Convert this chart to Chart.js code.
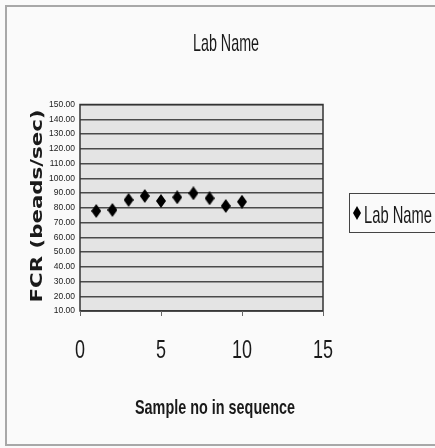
<!DOCTYPE html>
<html>
<head>
<meta charset="utf-8">
<script src="https://cdn.jsdelivr.net/npm/chart.js@4.4.0/dist/chart.umd.min.js"></script>
<style>
  body { margin: 0; background: #fafafa; }
  canvas { display: block; }
</style>
</head>
<body>
<canvas id="chart" width="435" height="448"></canvas>
<script>
const seriesName = "Lab Name";
const sampleNo = [1, 2, 3, 4, 5, 6, 7, 8, 9, 10];
const fcr = [77.8, 78.5, 85.3, 88, 84.6, 87.1, 89.8, 86.4, 81.2, 84.1];
const xTicks = [0, 5, 10, 15];
const yTicks = [10, 20, 30, 40, 50, 60, 70, 80, 90, 100, 110, 120, 130, 140, 150];

const narrow = "'Liberation Sans Narrow', 'Liberation Sans', Arial, sans-serif";

// tall diamond used as the marker
function makeDiamond(w, h) {
  const c = document.createElement("canvas");
  c.width = w; c.height = h;
  const g = c.getContext("2d");
  g.fillStyle = "#000";
  g.beginPath();
  g.moveTo(w / 2, 0);
  g.lineTo(w, h / 2);
  g.lineTo(w / 2, h);
  g.lineTo(0, h / 2);
  g.closePath();
  g.fill();
  return c;
}

// text squeezed / stretched like the scanned original
function stretchText(ctx, txt, x, y, font, w, sy, align, rot) {
  ctx.save();
  ctx.font = font;
  const m = ctx.measureText(txt).width;
  ctx.translate(x, y);
  if (rot) ctx.rotate(rot);
  ctx.scale(w ? w / m : 1, sy);
  ctx.textAlign = align || "center";
  ctx.textBaseline = "alphabetic";
  ctx.fillStyle = "#1a1a1a";
  ctx.fillText(txt, 0, 0);
  ctx.restore();
}

const decor = {
  id: "decor",
  beforeDraw(chart) {
    const { ctx, chartArea: a } = chart;
    ctx.save();
    ctx.fillStyle = "#fafafa";
    ctx.fillRect(0, 0, chart.width, chart.height);
    ctx.strokeStyle = "#a8a8a8";
    ctx.lineWidth = 2;
    ctx.strokeRect(6, 6, 440, 439);
    ctx.fillStyle = "#e4e4e4";
    ctx.fillRect(a.left, a.top, a.right - a.left, a.bottom - a.top);
    ctx.restore();
  },
  beforeDatasetsDraw(chart) {
    const { ctx, chartArea: a } = chart;
    const xs = chart.scales.x;
    ctx.save();
    ctx.strokeStyle = "#333";
    ctx.lineWidth = 1.5;
    ctx.strokeRect(a.left, a.top, a.right - a.left, a.bottom - a.top);
    // small tick marks under the x axis
    ctx.strokeStyle = "#666";
    ctx.lineWidth = 1;
    xTicks.forEach(v => {
      const px = Math.round(xs.getPixelForValue(v)) + 0.5;
      ctx.beginPath();
      ctx.moveTo(px, a.bottom);
      ctx.lineTo(px, a.bottom + 5);
      ctx.stroke();
    });
    ctx.restore();
  },
  afterDraw(chart) {
    const { ctx } = chart;
    const xs = chart.scales.x;
    stretchText(ctx, seriesName, 226, 51, "18px " + narrow, 66, 1.3);
    xTicks.forEach(v => {
      stretchText(ctx, String(v), xs.getPixelForValue(v), 358, "18px " + narrow, null, 1.4);
    });
    stretchText(ctx, "Sample no in sequence", 215, 414, "bold 18px " + narrow, 160, 1.1);
    stretchText(ctx, "FCR (beads/sec)", 42, 206, "bold 15px 'DejaVu Sans', sans-serif", 193, 1, "center", -Math.PI / 2);

    // legend box
    ctx.save();
    ctx.strokeStyle = "#444";
    ctx.lineWidth = 1;
    ctx.strokeRect(349.5, 193.5, 100, 39);
    ctx.drawImage(makeDiamond(8, 14), 353, 206);
    ctx.restore();
    stretchText(ctx, seriesName, 364, 223, "18px " + narrow, 68, 1.3, "left");
  }
};

new Chart(document.getElementById("chart"), {
  type: "scatter",
  data: {
    datasets: [{
      label: seriesName,
      data: sampleNo.map((x, i) => ({ x, y: fcr[i] })),
      pointStyle: makeDiamond(10, 14),
      backgroundColor: "#000",
      borderColor: "#000"
    }]
  },
  options: {
    responsive: false,
    animation: false,
    layout: { padding: { top: 104.5, left: 0, right: 112, bottom: 137 } },
    plugins: {
      legend: { display: false },
      title: { display: false },
      tooltip: { enabled: false }
    },
    scales: {
      x: {
        type: "linear",
        display: false,
        min: 0,
        max: 15
      },
      y: {
        min: 10,
        max: 150,
        afterFit(s) { s.width = 80; },
        afterBuildTicks(s) { s.ticks = yTicks.map(v => ({ value: v })); },
        ticks: {
          autoSkip: false,
          padding: 5,
          color: "#222",
          font: { family: narrow, size: 8.5 },
          callback: v => v.toFixed(2)
        },
        grid: { color: "#4a4a4a", lineWidth: 1.4, drawTicks: false },
        border: { display: false }
      }
    }
  },
  plugins: [decor]
});
</script>
</body>
</html>
